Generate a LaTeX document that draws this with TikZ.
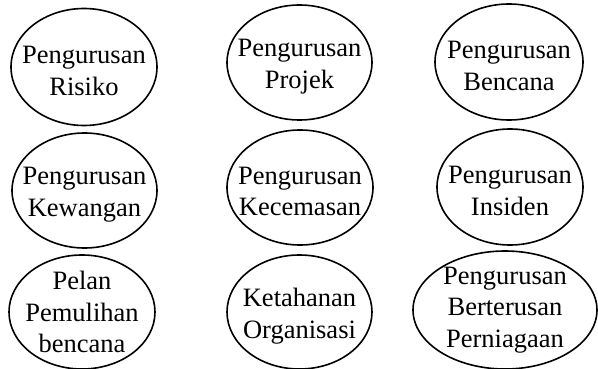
\documentclass[tikz,border=0pt]{standalone}
\usepackage{fontspec}
\setmainfont{Liberation Serif}
\usetikzlibrary{shapes.geometric}
\tikzset{
  oval/.style={ellipse, draw=black, line width=1.6pt, inner sep=0pt,
    minimum width=#1},
  oval/.default=146pt,
  lbl/.style={align=center, inner sep=0pt, font=\fontsize{26.5}{31.5}\selectfont},
  lbltwo/.style={lbl, yshift=-4pt}
}
\begin{document}
\begin{tikzpicture}[x=1pt,y=-1pt]
\useasboundingbox (0,0) rectangle (598,369);
\node[oval, minimum height=117pt, label={[lbltwo]center:Pengurusan\\Risiko}] (n1) at (84,67) {};
\node[oval=145pt, minimum height=115pt, label={[lbltwo]center:Pengurusan\\Projek}] (n2) at (299.5,62.5) {};
\node[oval=148pt, minimum height=116pt, label={[lbltwo]center:Pengurusan\\Bencana}] (n3) at (509,62) {};
\node[oval=145pt, minimum height=115pt, label={[lbltwo]center:Pengurusan\\Kewangan}] (n4) at (84.5,190.5) {};
\node[oval, minimum height=115pt, label={[lbltwo]center:Pengurusan\\Kecemasan}] (n5) at (300,187.5) {};
\node[oval, minimum height=116pt, label={[lbltwo]center:Pengurusan\\Insiden}] (n6) at (510,187) {};
\node[oval, minimum height=114pt, label={[lbl]center:Pelan\\Pemulihan\\bencana}] (n7) at (82,312) {};
\node[oval=145pt, minimum height=114pt, label={[lbltwo]center:Ketahanan\\Organisasi}] (n8) at (299.5,312) {};
\node[oval=184pt, minimum height=118pt, label={[lbl]center:Pengurusan\\Berterusan\\Perniagaan}] (n9) at (505,310) {};
\end{tikzpicture}
\end{document}
